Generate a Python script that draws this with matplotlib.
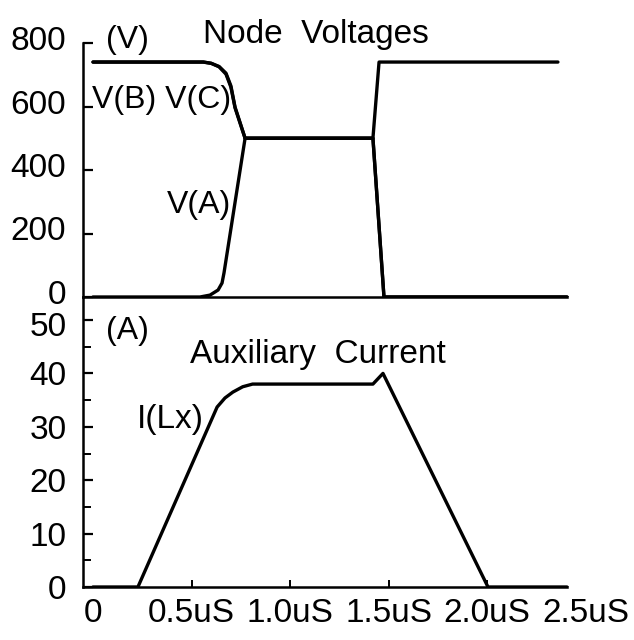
import matplotlib
matplotlib.use("Agg")
import matplotlib.pyplot as plt
from matplotlib.ticker import MultipleLocator
from matplotlib.transforms import ScaledTranslation

plt.rcParams['font.family'] = ['Liberation Sans', 'DejaVu Sans']

# ---- data (time in microseconds) ----
t_va = [0, 0.543, 0.594, 0.635, 0.655, 0.665, 0.772, 1.421, 1.452, 2.36]
v_a = [0, 0, 6, 22, 44, 76, 500, 500, 740, 740]

t_vbc = [0, 0.56, 0.6, 0.64, 0.675, 0.70, 0.721, 0.772, 1.421, 1.477, 2.406]
v_b = [740, 740, 736, 726, 705, 665, 598, 500, 500, 0, 0]
v_c = [740, 740, 736, 725, 702, 661, 596, 500, 500, 0, 0]

t_i = [0, 0.228, 0.63, 0.67, 0.71, 0.76, 0.81, 1.421, 1.472, 2.005, 2.406]
i_lx = [0, 0, 33.7, 35.4, 36.5, 37.5, 38, 38, 40, 0, 0]

xticks = [0, 0.5, 1.0, 1.5, 2.0, 2.5]
xticklabels = ['0', '0.5uS', '1.0uS', '1.5uS', '2.0uS', '2.5uS']
vticks = [0, 200, 400, 600, 800]
iticks = [0, 10, 20, 30, 40, 50]

W, H = 634, 640
fig = plt.figure(figsize=(W / 100, H / 100), dpi=100)

x_left_px, x_right_px = 83, 585.5
t0_px, px_per_us = 93, 197.0
xmin = (x_left_px - t0_px) / px_per_us
xmax = (x_right_px - t0_px) / px_per_us
xend = (567 - t0_px) / px_per_us

def ax_rect(top_px, bottom_px):
    return [x_left_px / W, 1 - bottom_px / H, (x_right_px - x_left_px) / W, (bottom_px - top_px) / H]

ax1 = fig.add_axes(ax_rect(43, 297))
ax2 = fig.add_axes(ax_rect(297, 587))

lw = 2.4
style = dict(color='black', lw=lw, solid_capstyle='round', solid_joinstyle='round')
ax1.plot(t_va, v_a, **style)
ax1.plot(t_vbc, v_b, **style)
ax1.plot(t_vbc, v_c, **style)
ax2.plot(t_i, i_lx, **style)

for ax in (ax1, ax2):
    ax.set_xlim(xmin, xmax)
    ax.spines['top'].set_visible(False)
    ax.spines['right'].set_visible(False)
    for s in ('left', 'bottom'):
        ax.spines[s].set_linewidth(1.8)
    ax.spines['bottom'].set_bounds(xmin, xend)
    ax.patch.set_visible(False)

ax1.set_ylim(0, 800)
ax1.set_yticks(vticks)
ax1.set_xticks([])
ax1.tick_params(axis='y', direction='in', length=7, width=1.6, pad=12, labelsize=24)

ax2.set_ylim(0, (587 - 297) / 5.34)
ax2.set_yticks(iticks)
ax2.yaxis.set_minor_locator(MultipleLocator(5))
ax2.tick_params(axis='y', which='major', direction='in', length=7, width=1.6, pad=12, labelsize=24)
ax2.tick_params(axis='y', which='minor', direction='in', length=6, width=1.4)
ax2.set_xticks(xticks)
ax2.set_xticklabels(xticklabels)
ax2.tick_params(axis='x', direction='in', length=5, width=1.4, pad=8, labelsize=24)
ax2.xaxis.get_major_ticks()[-1].tick1line.set_visible(False)
ax2.xaxis.get_major_ticks()[0].tick1line.set_visible(False)

# small vertical nudges of y tick labels, as in the drawing
up = ScaledTranslation(0, 5 / 100, fig.dpi_scale_trans)
for lab in ax1.get_yticklabels():
    lab.set_transform(lab.get_transform() + up)
down = ScaledTranslation(0, -4 / 100, fig.dpi_scale_trans)
lab50 = ax2.get_yticklabels()[-1]
lab50.set_transform(lab50.get_transform() + down)

def ftext(x, y, s, size, **kw):
    fig.text(x / W, 1 - y / H, s, fontsize=size, **kw)

ftext(203, 43, 'Node  Voltages', 24, ha='left', va='baseline')
ftext(127, 40, '(V)', 23, ha='center', va='center')
ftext(92, 108, 'V(B) V(C)', 23, ha='left', va='baseline')
ftext(167, 213, 'V(A)', 23, ha='left', va='baseline')
ftext(127, 331, '(A)', 23, ha='center', va='center')
ftext(190, 363, 'Auxiliary  Current', 24, ha='left', va='baseline')
ftext(137, 428, 'I(Lx)', 24, ha='left', va='baseline')

fig.savefig('out.png', dpi=100, facecolor='white')
